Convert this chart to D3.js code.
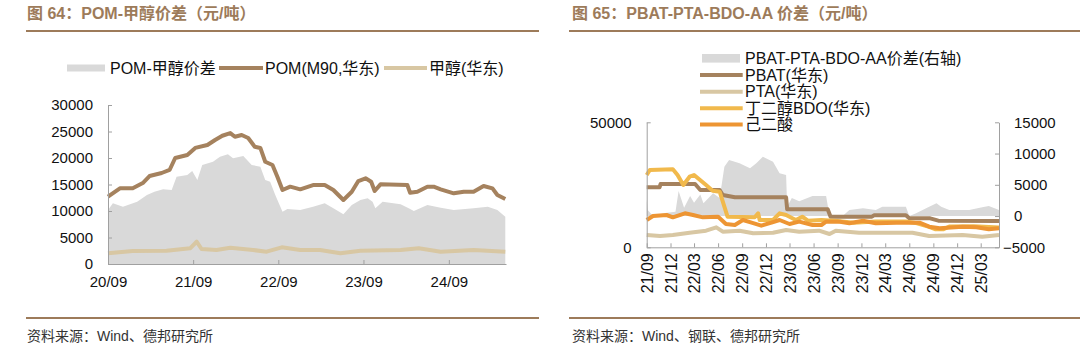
<!DOCTYPE html>
<html>
<head>
<meta charset="utf-8">
<script src="https://cdn.jsdelivr.net/npm/d3@7"></script>
<style>
  body { margin: 0; background: #fff; }
  svg { display: block; font-family: "Liberation Sans", "Noto Sans CJK SC", sans-serif; }
</style>
</head>
<body>
<script>
// ---- figure 64: POM vs methanol ----
const pomDates = ["2020-09-01","2020-10-22","2020-12-16","2021-01-28","2021-02-26","2021-04-19","2021-05-23","2021-06-16","2021-08-07","2021-09-10","2021-11-01","2021-12-04","2022-01-04","2022-02-07","2022-02-27","2022-03-28","2022-04-25","2022-05-23","2022-06-16","2022-07-07","2022-08-07","2022-08-28","2022-09-19","2022-10-22","2022-12-04","2023-01-28","2023-03-19","2023-04-25","2023-06-07","2023-07-13","2023-08-10","2023-09-10","2023-10-04","2023-10-19","2023-11-13","2024-03-07","2024-03-19","2024-04-19","2024-06-01","2024-06-28","2024-07-28","2024-09-22","2024-11-04","2024-12-16","2025-01-28","2025-03-07","2025-03-28","2025-05-01"];
const pomValues = [12700,14280,14300,15280,16600,17170,17740,20000,20570,21900,22450,23400,24200,24700,24000,24340,23770,22130,21900,19300,18680,16470,13960,14590,14090,14900,14900,13960,12080,13640,15660,16170,15530,13770,15030,14900,13450,13640,14590,14590,14090,13340,13640,13640,14720,14280,13020,12260];

const methanolDates = ["2020-09-01","2020-12-16","2021-05-10","2021-08-19","2021-09-16","2021-10-07","2021-12-10","2022-02-07","2022-05-16","2022-07-13","2022-09-16","2022-12-04","2023-02-27","2023-05-25","2023-08-19","2024-02-07","2024-04-25","2024-07-28","2024-12-16","2025-05-01"];
const methanolValues = [2020,2450,2500,2960,4200,2830,2640,3080,2640,2320,3150,2640,2640,2020,2500,2640,2960,2320,2640,2320];

const spreadDates = ["2020-09-01","2020-09-22","2020-11-04","2021-01-04","2021-02-15","2021-03-19","2021-04-25","2021-06-01","2021-06-22","2021-08-07","2021-08-28","2021-09-19","2021-10-10","2021-11-25","2021-12-25","2022-01-28","2022-02-19","2022-04-04","2022-05-10","2022-06-16","2022-07-07","2022-07-28","2022-08-19","2022-09-19","2022-10-10","2022-12-04","2023-01-28","2023-03-19","2023-04-25","2023-06-07","2023-07-13","2023-08-19","2023-09-19","2023-10-10","2023-10-22","2023-11-22","2024-02-07","2024-03-13","2024-04-04","2024-06-01","2024-07-28","2024-09-22","2024-12-16","2025-02-15","2025-03-28","2025-05-01"];
const spreadValues = [10190,11450,10820,11760,13020,13640,14090,13960,16470,16790,17550,15850,18680,19300,20250,20700,19940,20380,18680,18360,15850,15530,13020,9870,10380,10190,10820,11450,10500,9380,11130,12080,12400,11760,10500,11760,11260,10500,10000,11130,10630,10190,10500,10820,10190,8930];

const leftXTicks = ["2020-09-01","2021-09-01","2022-09-01","2023-09-01","2024-09-01"];
const leftYTicks = [0,5000,10000,15000,20000,25000,30000];

// ---- figure 65: PBAT chain ----
const pbatDates = ["2021-09-01","2021-10-20","2021-10-24","2022-03-05","2022-03-25","2022-06-07","2022-06-19","2022-08-04","2023-02-16","2023-02-20","2023-07-25","2023-08-05","2024-01-10","2024-01-18","2024-05-19","2024-06-01","2024-08-20","2024-09-20","2025-05-10"];
const pbatValues = [24000,24000,25300,25300,22920,22920,20920,20000,20000,15200,15200,12240,12240,12800,12800,11600,11600,10640,10520];

const ptaDates = ["2021-09-01","2021-10-22","2021-12-10","2022-02-12","2022-04-16","2022-05-25","2022-06-19","2022-08-22","2022-10-13","2022-12-28","2023-02-16","2023-04-07","2023-06-22","2023-08-01","2023-08-25","2023-11-22","2024-06-13","2024-08-16","2024-12-22","2025-03-07","2025-05-10"];
const ptaValues = [4920,4520,4920,5850,6650,7990,6250,6650,5590,5850,6920,6250,6650,5320,6650,5850,5850,4520,4920,4250,4920];

const bdoDates = ["2021-09-01","2021-09-13","2021-12-10","2021-12-28","2022-01-19","2022-02-12","2022-03-01","2022-04-16","2022-05-11","2022-06-07","2022-07-07","2022-10-19","2022-11-01","2022-11-07","2022-12-28","2023-01-22","2023-02-16","2023-03-25","2023-04-19","2023-05-10","2023-07-01","2023-09-01","2023-11-01","2024-01-25","2024-05-19","2024-07-01","2024-08-16","2024-09-10","2024-10-10","2024-11-01","2025-02-01","2025-05-10"];
const bdoValues = [28920,30920,31190,28920,24920,28250,28920,24920,22650,22250,12250,11990,13590,10920,10920,13590,12920,10920,12250,10650,10920,10500,9800,10300,10300,9600,8200,7200,7200,8300,8400,7900];

const aaDates = ["2021-09-01","2021-09-25","2021-11-16","2021-12-10","2022-01-25","2022-02-25","2022-04-04","2022-06-01","2022-07-01","2022-08-04","2022-09-04","2022-10-07","2022-11-13","2022-12-22","2023-01-22","2023-03-01","2023-04-07","2023-05-28","2023-07-01","2023-07-19","2023-09-10","2023-10-16","2023-12-07","2024-01-25","2024-04-13","2024-07-10","2024-08-16","2024-09-25","2024-12-22","2025-02-13","2025-04-01","2025-05-10"];
const aaValues = [10920,12520,12920,11990,13590,12920,11990,12250,9320,8920,10920,9850,8650,9850,10920,9320,10250,8920,8920,10250,10250,9590,10650,9590,9850,9850,8250,7590,8250,7990,7190,7590];

const pbatSpreadDates = ["2021-09-01","2021-09-05","2021-09-25","2021-11-10","2021-12-20","2022-01-01","2022-01-22","2022-02-14","2022-03-01","2022-03-25","2022-04-06","2022-05-13","2022-06-07","2022-06-25","2022-07-13","2022-08-22","2022-10-01","2022-10-25","2022-11-19","2022-12-28","2023-01-22","2023-02-16","2023-02-20","2023-03-10","2023-04-07","2023-05-28","2023-07-19","2023-08-01","2023-09-01","2023-09-20","2023-10-16","2023-12-07","2024-01-25","2024-02-19","2024-05-19","2024-06-01","2024-06-25","2024-08-16","2024-09-13","2024-10-01","2024-11-01","2025-01-16","2025-03-07","2025-04-01","2025-05-10"];
const pbatSpreadValues = [2570,970,0,500,700,4000,1320,3190,2120,3460,2040,3640,2900,7900,8970,8440,7640,8440,9500,8700,6840,6570,1500,2900,2370,3190,3190,0,-200,0,970,1240,970,1500,1500,0,400,1500,2030,1500,970,970,1400,1610,970];

const rightXTicks = ["2021-09-01","2021-12-01","2022-03-01","2022-06-01","2022-09-01","2022-12-01","2023-03-01","2023-06-01","2023-09-01","2023-12-01","2024-03-01","2024-06-01","2024-09-01","2024-12-01","2025-03-01"];
const rightYLeftTicks = [0,50000];
const rightYRightTicks = [-5000,0,5000,10000,15000];

const parse = d3.timeParse("%Y-%m-%d");
const zip = (dates, values) => dates.map((d, i) => ({ date: parse(d), value: values[i] }));

const brown = "#a5825e";
const tan = "#d8c7a3";
const yellow = "#f1b94c";
const orange = "#ed9533";
const gray = "#d9d9d9";
const titleColor = "#9d7b5a";
const axisColor = "#a0a0a0";

const svg = d3
  .select("body")
  .append("svg")
  .attr("width", 1080)
  .attr("height", 351);

svg.append("rect").attr("width", 1080).attr("height", 351).attr("fill", "#fff");

// headers and footers
const panels = [
  { x0: 26, x1: 539, tx: 27, title: "图 64：POM-甲醇价差（元/吨）", source: "资料来源：Wind、德邦研究所" },
  { x0: 569, x1: 1080, tx: 572, title: "图 65：PBAT-PTA-BDO-AA 价差（元/吨）", source: "资料来源：Wind、钢联、德邦研究所" },
];

panels.forEach((p) => {
  svg
    .append("text")
    .attr("x", p.tx)
    .attr("y", 19)
    .attr("fill", titleColor)
    .attr("font-size", 16)
    .attr("font-weight", "bold")
    .text(p.title);
  svg
    .append("line")
    .attr("x1", p.x0)
    .attr("x2", p.x1)
    .attr("y1", 31)
    .attr("y2", 31)
    .attr("stroke", titleColor)
    .attr("stroke-width", 2);
  svg
    .append("line")
    .attr("x1", p.x0)
    .attr("x2", p.x1)
    .attr("y1", 318)
    .attr("y2", 318)
    .attr("stroke", titleColor)
    .attr("stroke-width", 2);
  svg
    .append("text")
    .attr("x", p.tx)
    .attr("y", 341)
    .attr("fill", "#333")
    .attr("font-size", 14)
    .text(p.source);
});

const styleAxis = (g) => {
  g.select(".domain").attr("stroke", axisColor);
  g.selectAll(".tick line").attr("stroke", axisColor);
  g.selectAll("text").attr("fill", "#111").attr("font-size", 15).attr("font-family", null);
};

const plain = d3.format("d");

// ---------- left chart ----------
const xL = d3
  .scaleTime()
  .domain([parse("2020-09-01"), parse("2025-05-04")])
  .range([108, 506]);

const yL = d3.scaleLinear().domain([0, 30000]).range([264, 105]);

const left = svg.append("g");

left
  .append("path")
  .datum(zip(spreadDates, spreadValues))
  .attr("fill", gray)
  .attr(
    "d",
    d3
      .area()
      .x((d) => xL(d.date))
      .y0(yL(0))
      .y1((d) => yL(d.value))
  );

const lineL = d3
  .line()
  .x((d) => xL(d.date))
  .y((d) => yL(d.value));

left
  .append("path")
  .datum(zip(methanolDates, methanolValues))
  .attr("fill", "none")
  .attr("stroke", tan)
  .attr("stroke-width", 4)
  .attr("stroke-linejoin", "round")
  .attr("d", lineL);

left
  .append("path")
  .datum(zip(pomDates, pomValues))
  .attr("fill", "none")
  .attr("stroke", brown)
  .attr("stroke-width", 4)
  .attr("stroke-linejoin", "round")
  .attr("d", lineL);

left
  .append("g")
  .attr("transform", "translate(108,0)")
  .call(
    d3
      .axisLeft(yL)
      .tickValues(leftYTicks)
      .tickFormat(plain)
      .tickSizeInner(-4)
      .tickSizeOuter(0)
      .tickPadding(15)
  )
  .call(styleAxis);

left
  .append("g")
  .attr("transform", "translate(0,264)")
  .call(
    d3
      .axisBottom(xL)
      .tickValues(leftXTicks.map(parse))
      .tickFormat(d3.timeFormat("%y/%m"))
      .tickSizeInner(-4)
      .tickSizeOuter(0)
      .tickPadding(12)
  )
  .call(styleAxis);

// left legend
const legL = svg.append("g").attr("font-size", 16).attr("fill", "#111");
legL.append("rect").attr("x", 67).attr("y", 64.5).attr("width", 38).attr("height", 7).attr("fill", gray);
legL.append("text").attr("x", 110).attr("y", 68).attr("dy", "0.35em").text("POM-甲醇价差");
legL.append("line").attr("x1", 219).attr("x2", 263).attr("y1", 68).attr("y2", 68).attr("stroke", brown).attr("stroke-width", 4);
legL.append("text").attr("x", 265).attr("y", 68).attr("dy", "0.35em").text("POM(M90,华东)");
legL.append("line").attr("x1", 384).attr("x2", 427).attr("y1", 68).attr("y2", 68).attr("stroke", tan).attr("stroke-width", 4);
legL.append("text").attr("x", 429).attr("y", 68).attr("dy", "0.35em").text("甲醇(华东)");

// ---------- right chart ----------
const xR = d3
  .scaleTime()
  .domain([parse("2021-09-01"), parse("2025-05-10")])
  .range([646.7, 999]);

const yRL = d3.scaleLinear().domain([0, 50000]).range([247.3, 122.3]);
const yRR = d3.scaleLinear().domain([-5000, 15000]).range([247.3, 122.3]);

const right = svg.append("g");

right
  .append("path")
  .datum(zip(pbatSpreadDates, pbatSpreadValues))
  .attr("fill", gray)
  .attr(
    "d",
    d3
      .area()
      .x((d) => xR(d.date))
      .y0(yRR(0))
      .y1((d) => yRR(d.value))
  );

const lineR = d3
  .line()
  .x((d) => xR(d.date))
  .y((d) => yRL(d.value));

const rightSeries = [
  { dates: pbatDates, values: pbatValues, color: brown },
  { dates: ptaDates, values: ptaValues, color: tan },
  { dates: bdoDates, values: bdoValues, color: yellow },
  { dates: aaDates, values: aaValues, color: orange },
];

rightSeries.forEach((s) => {
  right
    .append("path")
    .datum(zip(s.dates, s.values))
    .attr("fill", "none")
    .attr("stroke", s.color)
    .attr("stroke-width", 4)
    .attr("stroke-linejoin", "round")
    .attr("d", lineR);
});

right
  .append("g")
  .attr("transform", "translate(646.7,0)")
  .call(
    d3
      .axisLeft(yRL)
      .tickValues(rightYLeftTicks)
      .tickFormat(plain)
      .tickSizeInner(-4)
      .tickSizeOuter(0)
      .tickPadding(15)
  )
  .call(styleAxis);

right
  .append("g")
  .attr("transform", "translate(999,0)")
  .call(
    d3
      .axisRight(yRR)
      .tickValues(rightYRightTicks)
      .tickFormat(plain)
      .tickSizeInner(-4)
      .tickSizeOuter(0)
      .tickPadding(15)
  )
  .call(styleAxis)
  .call((g) => g.selectAll("text").filter((d) => d < 0).attr("x", 4));

right
  .append("g")
  .attr("transform", "translate(0,247.3)")
  .call(
    d3
      .axisBottom(xR)
      .tickValues(rightXTicks.map(parse))
      .tickFormat(d3.timeFormat("%y/%m"))
      .tickSizeInner(-4)
      .tickSizeOuter(0)
  )
  .call(styleAxis)
  .call((g) =>
    g
      .selectAll("text")
      .attr("font-size", 16)
      .attr("transform", "rotate(-90)")
      .attr("x", -6)
      .attr("y", 0)
      .attr("dy", "0.35em")
      .attr("text-anchor", "end")
  );

// right legend
const legendR = [
  { label: "PBAT-PTA-BDO-AA价差(右轴)", color: gray, area: true },
  { label: "PBAT(华东)", color: brown },
  { label: "PTA(华东)", color: tan },
  { label: "丁二醇BDO(华东)", color: yellow },
  { label: "己二酸", color: orange },
];
const legendRowsY = [58.3, 75, 91.7, 108.3, 124.5];

const legR = svg
  .append("g")
  .attr("font-size", 16)
  .attr("fill", "#111")
  .selectAll("g")
  .data(legendR)
  .enter()
  .append("g")
  .attr("transform", (d, i) => `translate(0 ${legendRowsY[i]})`);

legR
  .filter((d) => d.area)
  .append("rect")
  .attr("x", 702)
  .attr("y", -4.3)
  .attr("width", 38)
  .attr("height", 8.6)
  .attr("fill", (d) => d.color);

legR
  .filter((d) => !d.area)
  .append("line")
  .attr("x1", 700)
  .attr("x2", 742.7)
  .attr("stroke", (d) => d.color)
  .attr("stroke-width", 4);

legR
  .append("text")
  .attr("x", 745)
  .attr("dy", "0.35em")
  .text((d) => d.label);
</script>
</body>
</html>
